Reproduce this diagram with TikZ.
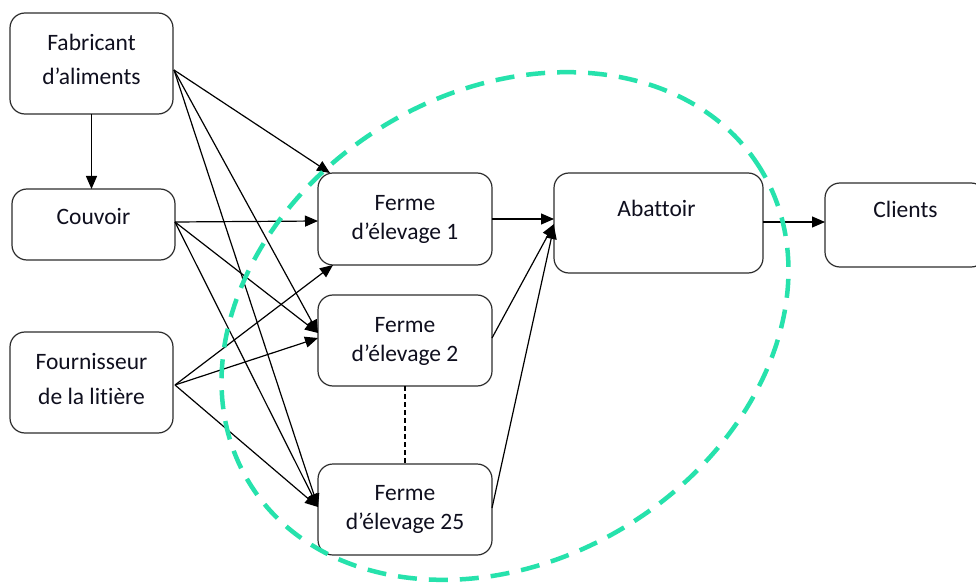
\documentclass[tikz,border=0pt]{standalone}
\usepackage{fontspec}
\setmainfont{Carlito}[Ligatures=NoCommon]
\usetikzlibrary{arrows.meta,calc}
\definecolor{boxline}{RGB}{45,45,45}
\definecolor{txt}{RGB}{15,15,30}
\definecolor{zone}{RGB}{38,226,172}
\tikzset{
  boxnode/.style={draw=boxline,line width=1.2pt,rounded corners=15pt,inner sep=0pt,outer sep=0pt,fill=white},
  lbl/.style={anchor=base,inner sep=0pt,text=txt,font=\fontsize{23.5}{28}\selectfont},
  conn/.style={draw=black,line width=1.2pt,-{Triangle[length=13pt,width=11pt]}},
  dotline/.style={draw=black,line width=1.1pt,dash pattern=on 5pt off 3pt},
  zonestyle/.style={draw=zone,line width=4.5pt,dash pattern=on 19pt off 12pt}
}
\begin{document}
\begin{tikzpicture}[x=1pt,y=-1pt]
\useasboundingbox (0,0) rectangle (976,585);
\clip (0,0) rectangle (976,585);
\fill[white] (0,0) rectangle (976,585);
% boxes
\node[boxnode,minimum width=163pt,minimum height=101pt] (fab) at (91.5,63.5) {};
\node[boxnode,minimum width=163pt,minimum height=71pt] (couv) at (93.5,224.5) {};
\node[boxnode,minimum width=163pt,minimum height=101pt] (four) at (91.5,382.5) {};
\node[boxnode,minimum width=174pt,minimum height=92pt] (f1) at (405,219) {};
\node[boxnode,minimum width=174pt,minimum height=91pt] (f2) at (405,340.5) {};
\node[boxnode,minimum width=174pt,minimum height=91pt] (f25) at (405,509.5) {};
\node[boxnode,minimum width=209pt,minimum height=100pt] (abat) at (658.5,223) {};
\node[boxnode,minimum width=161pt,minimum height=84pt] (cli) at (905.5,225) {};
% texts
\node[lbl] (fabA) at (91.5,51) {Fabricant};
\node[lbl] (fabB) at (91.5,85) {d’aliments};
\node[lbl] (couvA) at (93.5,225) {Couvoir};
\node[lbl] (fourA) at (91.5,369) {Fournisseur};
\node[lbl] (fourB) at (91.5,404) {de la litière};
\node[lbl] (f1A) at (405,211) {Ferme};
\node[lbl] (f1B) at (405,240) {d’élevage 1};
\node[lbl] (f2A) at (405,332) {Ferme};
\node[lbl] (f2B) at (405,361) {d’élevage 2};
\node[lbl] (f25A) at (405,500) {Ferme};
\node[lbl] (f25B) at (405,529) {d’élevage 25};
\node[lbl] (abatA) at (656.5,217) {Abattoir};
\node[lbl] (cliA) at (905.5,218) {Clients};
% connectors
\draw[conn] (fab.south) -- (couv.north -| fab.south);
\draw[conn] ($(fab.east)+(1,6.5)$) -- ($(f1.north west)+(12,0)$);
\draw[conn] ($(fab.east)+(1,6.5)$) -- ($(f2.west)+(0,-7.5)$);
\draw[conn] ($(fab.east)+(1,6.5)$) -- ($(f25.west)+(0,-2.5)$);
\draw[conn] ($(couv.east)+(0,-2.5)$) -- ($(f1.west)+(0,2)$);
\draw[conn] ($(couv.east)+(0,-2.5)$) -- ($(f2.west)+(0,-7.5)$);
\draw[conn] ($(couv.east)+(0,-2.5)$) -- ($(f25.west)+(0,-2.5)$);
\draw[conn] ($(four.east)+(2,2.5)$) -- ($(f1.south west)+(15,0)$);
\draw[conn] ($(four.east)+(2,2.5)$) -- ($(f2.west)+(0,-2.5)$);
\draw[conn] ($(four.east)+(2,2.5)$) -- ($(f25.west)+(0,-2.5)$);
\draw[conn] (f1.east) -- (f1.east -| abat.west);
\draw[conn] ($(f2.east)+(0,-2.5)$) -- ($(abat.west)+(0,1)$);
\draw[conn] ($(f25.east)+(0,-1.5)$) -- ($(abat.west)+(0,3)$);
\draw[conn] ($(abat.east)+(0,-1)$) -- ($(abat.east -| cli.west)+(0,-1)$);
\draw[dotline] (f2.south) -- (f25.north);
% zone
\draw[zonestyle,rotate around={31.6:(505,326)}] (505,326) ellipse [x radius=300pt, y radius=234pt];
\end{tikzpicture}
\end{document}
